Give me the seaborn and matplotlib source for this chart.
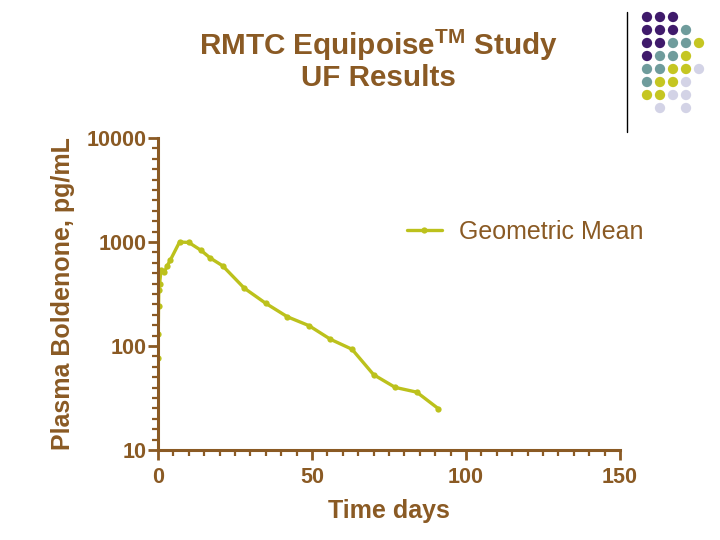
import matplotlib
matplotlib.use("Agg")
import matplotlib.pyplot as plt
import seaborn as sns
import pandas as pd
from matplotlib.ticker import MultipleLocator, NullFormatter, FixedLocator

# data
time_days = [0.04, 0.08, 0.17, 0.25, 0.5, 1, 2, 3, 4, 7, 10, 14, 17, 21,
             28, 35, 42, 49, 56, 63, 70, 77, 84, 91]
geo_mean = [76, 130, 240, 345, 395, 540, 510, 590, 670, 1000, 990, 830, 700, 590,
            360, 257, 191, 157, 116, 93, 53, 40, 36, 25]

y_ticks = [10, 100, 1000, 10000]
y_tick_labels = ["10", "100", "1000", "10000"]
x_ticks = [0, 50, 100, 150]

# logo dot grid (row by row), P=purple T=teal Y=yellow L=lavender, .=empty
logo_rows = ["PPP..",
             "PPPT.",
             "PPTTY",
             "PTTY.",
             "TTYYL",
             "TYYL.",
             "YYLL.",
             ".L.L."]
logo_colors = {"P": "#3f1a6b", "T": "#6f9c9c", "Y": "#c5c622", "L": "#d3d3e6"}

brown = "#8a5a24"
line_color = "#bcc11c"

sns.set_style("ticks")
plt.rcParams["font.family"] = ["Liberation Sans", "DejaVu Sans"]
plt.rcParams["mathtext.fontset"] = "custom"
plt.rcParams["mathtext.bf"] = "Liberation Sans:bold"

df = pd.DataFrame({"Time days": time_days, "Geometric Mean": geo_mean})

fig = plt.figure(figsize=(7.2, 5.4), dpi=100)
ax = fig.add_axes([158 / 720, 1 - 450 / 540, 462 / 720, 312 / 540])

sns.lineplot(data=df, x="Time days", y="Geometric Mean", ax=ax, color=line_color,
             linewidth=2.4, marker="o", markersize=4.5, markeredgewidth=0,
             label="Geometric Mean")

ax.set_yscale("log")
ax.set_ylim(10, 10000)
ax.set_xlim(0, 150)
ax.yaxis.set_major_locator(FixedLocator(y_ticks))
ax.set_yticklabels(y_tick_labels)
# evenly spaced minor ticks on the log axis (ten steps per decade)
minor_y = [10 ** (d + i / 10) for d in range(1, 4) for i in range(1, 10)]
ax.yaxis.set_minor_locator(FixedLocator(minor_y))
ax.yaxis.set_minor_formatter(NullFormatter())
ax.xaxis.set_major_locator(FixedLocator(x_ticks))
ax.xaxis.set_minor_locator(MultipleLocator(5))

for side in ["top", "right"]:
    ax.spines[side].set_visible(False)
for side in ["left", "bottom"]:
    ax.spines[side].set_color(brown)
    ax.spines[side].set_linewidth(2.2)
ax.tick_params(which="major", length=7, width=2, color=brown, labelcolor=brown,
               labelsize=15.5, pad=1.5)
ax.tick_params(axis="x", which="major", pad=5)
ax.tick_params(which="minor", length=4.5, width=1.6, color=brown)
for lab in ax.get_xticklabels() + ax.get_yticklabels():
    lab.set_fontweight("bold")

ax.set_xlabel("Time days", fontsize=18, fontweight="bold", color=brown, labelpad=8)
ax.set_ylabel("Plasma Boldenone, pg/mL", fontsize=18, fontweight="bold", color=brown,
              labelpad=8)

leg = ax.legend(loc="center left", bbox_to_anchor=(384 / 720, 1 - 232 / 540),
                bbox_transform=fig.transFigure, frameon=False, fontsize=18,
                handlelength=1.4, handletextpad=0.7)
for t in leg.get_texts():
    t.set_color(brown)

fig.text(378 / 720, 1 - 45 / 540, r"RMTC Equipoise$^{\mathbf{TM}}$ Study",
         ha="center", va="center", fontsize=21.3, fontweight="bold", color=brown)
fig.text(378 / 720, 1 - 78 / 540, "UF Results", ha="center", va="center",
         fontsize=21.3, fontweight="bold", color=brown)

# logo in the top right corner
lax = fig.add_axes([0, 0, 1, 1], zorder=-1)
lax.set_xlim(0, 720)
lax.set_ylim(540, 0)
lax.axis("off")
lax.plot([627, 627], [12, 132], color="black", linewidth=1)
xs, ys, cs = [], [], []
for r, row in enumerate(logo_rows):
    for c, ch in enumerate(row):
        if ch != ".":
            xs.append(647 + c * 13)
            ys.append(17 + r * 13)
            cs.append(logo_colors[ch])
lax.scatter(xs, ys, s=55, c=cs, linewidths=0)

fig.savefig("out.png", dpi=100)
